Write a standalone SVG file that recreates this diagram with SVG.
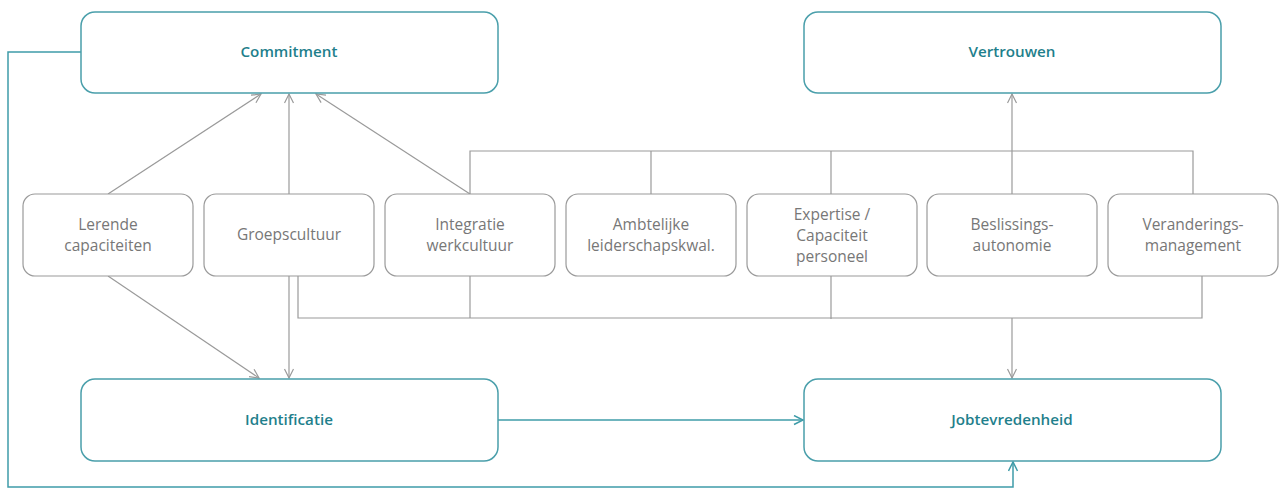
<svg xmlns="http://www.w3.org/2000/svg" width="1279" height="488" viewBox="0 0 1279 488">
<style>
.main rect{fill:#fff;stroke:#4a9fab;stroke-width:1.5}
.main text{fill:#1f7f8c;font-family:"Open Sans","Liberation Sans",sans-serif;font-size:15.2px;font-weight:600;text-anchor:middle}
.sub rect{fill:#fff;stroke:#9a9a9a;stroke-width:1.2}
.sub text{fill:#777;font-family:"Open Sans","Liberation Sans",sans-serif;font-size:15.5px;text-anchor:middle}
.g{fill:none;stroke:#9a9a9a;stroke-width:1.2}
.t{fill:none;stroke:#3f9ca9;stroke-width:1.5}
</style>
<defs>
<marker id="ag" markerUnits="userSpaceOnUse" markerWidth="12" markerHeight="12" refX="10" refY="5" orient="auto"><path d="M1,0.5 L10,5 L1,9.5" fill="none" stroke="#9a9a9a" stroke-width="1.2"/></marker>
<marker id="at" markerUnits="userSpaceOnUse" markerWidth="12" markerHeight="12" refX="10" refY="5" orient="auto"><path d="M1,0.5 L10,5 L1,9.5" fill="none" stroke="#3f9ca9" stroke-width="1.5"/></marker>
</defs>
<g id="connectors">
<polyline class="t" points="81,52 8,52 8,487 1013,487 1013,462" marker-end="url(#at)"/>
<line class="t" x1="498" y1="420" x2="803" y2="420" marker-end="url(#at)"/>
<line class="g" x1="108" y1="194" x2="261" y2="94" marker-end="url(#ag)"/>
<line class="g" x1="289" y1="194" x2="289" y2="94" marker-end="url(#ag)"/>
<line class="g" x1="470" y1="194" x2="316" y2="94" marker-end="url(#ag)"/>
<polyline class="g" points="470,194 470,151 1193,151 1193,194"/>
<line class="g" x1="651" y1="151" x2="651" y2="194"/>
<line class="g" x1="831" y1="151" x2="831" y2="194"/>
<line class="g" x1="1012" y1="194" x2="1012" y2="94" marker-end="url(#ag)"/>
<line class="g" x1="108" y1="276" x2="259" y2="378" marker-end="url(#ag)"/>
<line class="g" x1="289" y1="276" x2="289" y2="378" marker-end="url(#ag)"/>
<polyline class="g" points="298,276 298,318 1202,318 1202,276"/>
<line class="g" x1="470" y1="276" x2="470" y2="318"/>
<line class="g" x1="831" y1="276" x2="831" y2="319"/>
<line class="g" x1="1012" y1="318" x2="1012" y2="378" marker-end="url(#ag)"/>
</g>
<g id="commitment" class="main"><rect x="81" y="12" width="417" height="81" rx="14"/><text x="289" y="57">Commitment</text></g>
<g id="vertrouwen" class="main"><rect x="804" y="12" width="417" height="81" rx="14"/><text x="1012" y="57">Vertrouwen</text></g>
<g id="identificatie" class="main"><rect x="81" y="379" width="417" height="82" rx="14"/><text x="289" y="425">Identificatie</text></g>
<g id="jobtevredenheid" class="main"><rect x="804" y="379" width="417" height="82" rx="14"/><text x="1012" y="425">Jobtevredenheid</text></g>
<g id="lerende" class="sub"><rect x="23" y="194" width="170" height="82" rx="12"/><text x="108" y="230">Lerende</text><text x="108" y="251">capaciteiten</text></g>
<g id="groepscultuur" class="sub"><rect x="204" y="194" width="170" height="82" rx="12"/><text x="289" y="240">Groepscultuur</text></g>
<g id="integratie" class="sub"><rect x="385" y="194" width="170" height="82" rx="12"/><text x="470" y="230">Integratie</text><text x="470" y="251">werkcultuur</text></g>
<g id="ambtelijke" class="sub"><rect x="566" y="194" width="170" height="82" rx="12"/><text x="651" y="230">Ambtelijke</text><text x="651" y="251">leiderschapskwal.</text></g>
<g id="expertise" class="sub"><rect x="747" y="194" width="170" height="82" rx="12"/><text x="832" y="220">Expertise /</text><text x="832" y="241">Capaciteit</text><text x="832" y="262">personeel</text></g>
<g id="beslissings" class="sub"><rect x="927" y="194" width="170" height="82" rx="12"/><text x="1012" y="230">Beslissings-</text><text x="1012" y="251">autonomie</text></g>
<g id="veranderings" class="sub"><rect x="1108" y="194" width="170" height="82" rx="12"/><text x="1193" y="230">Veranderings-</text><text x="1193" y="251">management</text></g>
</svg>
